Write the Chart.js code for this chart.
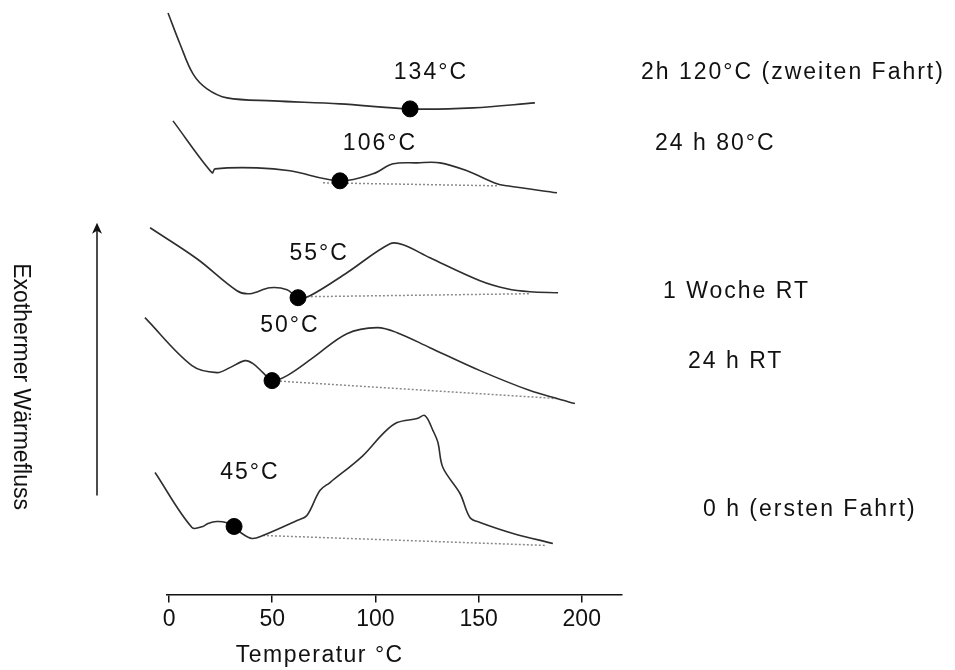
<!DOCTYPE html>
<html>
<head>
<meta charset="utf-8">
<script src="https://cdn.jsdelivr.net/npm/chart.js@4.4.1/dist/chart.umd.min.js"></script>
<style>
    body { margin: 0; background: #fff; }
</style>
</head>
<body>
<canvas id="dsc" width="955" height="670"></canvas>
<script>
// Temperatur (°C) und Wärmefluss (willkürliche Einheit, Kurven versetzt)
const temp120 = [-0.5, 5.3, 11.6, 18.4, 28.1, 50.4, 82.8, 116.8, 147.3, 177.3];
const fluss120 = [58.2, 55.1, 52.1, 50.6, 49.7, 49.4, 49.1, 48.6, 48.7, 49.2];

const temp80 = [1.9, 20.8, 22.3, 42.6, 58.6, 82.8, 98.8, 108.5, 120.2, 131.3, 144.4, 158.9, 163.8, 188];
const fluss80 = [47.4, 42.2, 42.6, 42.7, 42.4, 41.4, 42.1, 43.1, 43.2, 43.2, 42.4, 41.1, 40.9, 40.2];

const tempWoche = [-9.2, 13.5, 32.9, 39.2, 48.9, 57.2, 62.5, 68.3, 86.2, 107.1, 113.4, 126.4, 150.7, 163.8, 174.9, 188.5];
const flussWoche = [36.7, 33.6, 30.4, 30.1, 30.7, 30.5, 29.7, 29.9, 32.2, 35.1, 35.0, 33.7, 31.4, 30.6, 30.3, 30.2];

const temp24 = [-11.7, 11.1, 23.2, 29.5, 36.8, 40.7, 45.5, 49.9, 57.2, 69.8, 86.2, 100.8, 110.5, 126.4, 150.7, 174.9, 188, 196.7];
const fluss24 = [27.7, 22.9, 22.2, 22.7, 23.4, 23.1, 22.2, 21.4, 21.9, 23.7, 26.1, 26.7, 26.2, 24.7, 22.4, 20.4, 19.6, 19.1];

const temp0 = [-6.8, 11.1, 16.4, 18.9, 23.2, 27.6, 31.5, 35.3, 40.2, 45.5, 62, 66.8, 73.1, 78, 94, 103.7, 110.5, 120.2, 124, 127.9, 130.3, 132.7, 141, 145.8, 150.7, 166.7, 186];
const fluss0 = [12.2, 6.7, 6.8, 7.1, 7.3, 7.2, 6.8, 6.1, 5.6, 5.9, 7.4, 7.9, 10.4, 11.2, 13.9, 16.1, 17.2, 17.6, 17.9, 16.4, 15.2, 12.7, 10.1, 7.7, 7.2, 6.1, 5.1];

// Basislinien (Anfang, Ende)
const basisTemp = [[74.6, 159.4], [66.8, 174.9], [49.9, 188], [45.5, 183.1]];
const basisFluss = [[41.2, 40.9], [29.8, 30.1], [21.4, 19.6], [5.9, 4.9]];

// markierte Punkte
const punktTemp = [116.8, 82.8, 62.5, 49.9, 31.5];
const punktFluss = [48.6, 41.4, 29.7, 21.4, 6.8];
const punktText = ['134°C', '106°C', '55°C', '50°C', '45°C'];

const probenText = ['2h 120°C (zweiten Fahrt)', '24 h 80°C', '1 Woche RT', '24 h RT', '0 h (ersten Fahrt)'];
const xTicks = [0, 50, 100, 150, 200];

function punkte(xs, ys) {
    return xs.map((x, i) => ({ x: x, y: ys[i] }));
}

// Lage der Texte (Datenkoordinaten bzw. Abstand rechts vom Diagramm)
const punktTextPos = [[126.9, 52.2], [102.2, 45.1], [72.7, 34.1], [58.6, 26.9], [39.2, 12.2]];
const probenTextPos = [[19, 52.2], [33, 45.1], [41, 30.3], [66, 23.3], [81, 8.5]];

const schrift = '"Liberation Sans", Arial, sans-serif';

const beschriftung = {
    id: 'beschriftung',
    afterDraw(chart) {
        const ctx = chart.ctx;
        const xs = chart.scales.x;
        const ys = chart.scales.y;
        const area = chart.chartArea;
        ctx.save();
        ctx.fillStyle = '#111';
        ctx.font = '23px ' + schrift;
        ctx.textBaseline = 'middle';
        ctx.letterSpacing = '2px';

        ctx.textAlign = 'center';
        punktText.forEach((t, i) => {
            ctx.fillText(t, xs.getPixelForValue(punktTextPos[i][0]), ys.getPixelForValue(punktTextPos[i][1]));
        });

        ctx.textAlign = 'left';
        probenText.forEach((t, i) => {
            ctx.fillText(t, area.right + probenTextPos[i][0], ys.getPixelForValue(probenTextPos[i][1]));
        });

        // x-Achsentitel
        ctx.letterSpacing = '1.5px';
        ctx.textAlign = 'center';
        ctx.fillText('Temperatur °C', xs.getPixelForValue(73), area.bottom + 61);

        // y-Achsentitel, von oben nach unten gelesen
        ctx.letterSpacing = '0px';
        ctx.save();
        ctx.translate(20, ys.getPixelForValue(20.8));
        ctx.rotate(Math.PI / 2);
        ctx.fillText('Exothermer Wärmefluss', 0, 0);
        ctx.restore();

        // Pfeil
        const ax = 97;
        const top = ys.getPixelForValue(37.2);
        const bottom = ys.getPixelForValue(9.9);
        ctx.strokeStyle = '#111';
        ctx.lineWidth = 1.5;
        ctx.beginPath();
        ctx.moveTo(ax, bottom);
        ctx.lineTo(ax, top + 6);
        ctx.stroke();
        ctx.fillStyle = '#111';
        ctx.beginPath();
        ctx.moveTo(ax, top);
        ctx.lineTo(ax - 5, top + 11);
        ctx.lineTo(ax, top + 8);
        ctx.lineTo(ax + 5, top + 11);
        ctx.closePath();
        ctx.fill();
        ctx.restore();
    }
};

function kurve(xs, ys) {
    return {
        type: 'line',
        data: punkte(xs, ys),
        borderColor: '#2e2e2e',
        borderWidth: 1.6,
        pointRadius: 0,
        tension: 0.35,
        clip: false
    };
}

const datasets = [{
    type: 'scatter',
    data: punkte(punktTemp, punktFluss),
    pointRadius: 8,
    pointBackgroundColor: '#000',
    pointBorderColor: '#000',
    clip: false
}];
datasets.push(kurve(temp120, fluss120));
datasets.push(kurve(temp80, fluss80));
datasets.push(kurve(tempWoche, flussWoche));
datasets.push(kurve(temp24, fluss24));
datasets.push(kurve(temp0, fluss0));
basisTemp.forEach((t, i) => {
    datasets.push({
        type: 'line',
        data: punkte(t, basisFluss[i]),
        borderColor: '#8a8a8a',
        borderWidth: 1.5,
        borderDash: [2, 2],
        pointRadius: 0,
        clip: false
    });
});

new Chart(document.getElementById('dsc'), {
    type: 'line',
    data: { datasets: datasets },
    options: {
        responsive: false,
        animation: false,
        layout: { padding: { left: 167, right: 333, top: 0, bottom: 34 } },
        plugins: { legend: { display: false }, tooltip: { enabled: false } },
        scales: {
            x: {
                type: 'linear',
                min: -1,
                max: 219.5,
                afterBuildTicks: (axis) => { axis.ticks = xTicks.map(v => ({ value: v })); },
                ticks: { color: '#111', font: { size: 23, family: schrift }, padding: 3, maxRotation: 0 },
                grid: { drawOnChartArea: false, drawTicks: true, tickLength: 8, color: '#111', lineWidth: 1.5 },
                border: { display: true, color: '#111', width: 1.5 }
            },
            y: {
                type: 'linear',
                display: false,
                min: 0,
                max: 58.6
            }
        }
    },
    plugins: [beschriftung]
});
</script>
</body>
</html>
